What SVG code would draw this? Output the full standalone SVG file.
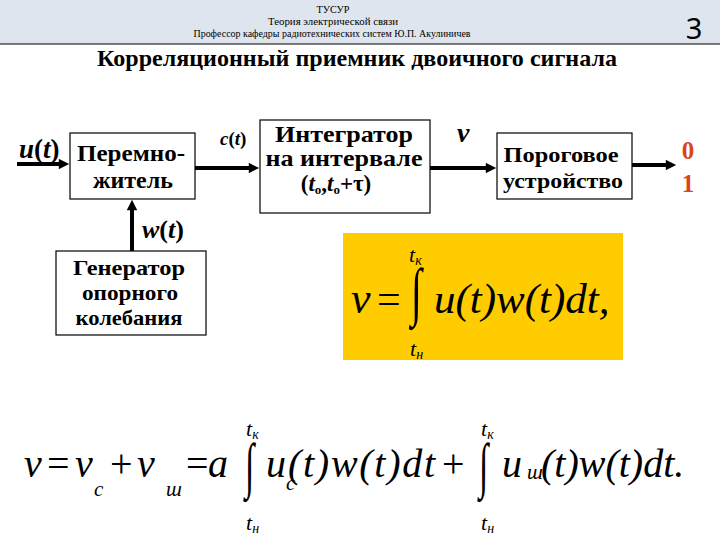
<svg xmlns="http://www.w3.org/2000/svg" width="720" height="540" viewBox="0 0 720 540">
<defs>
<marker id="ah" viewBox="0 0 10 10" refX="5" refY="5" markerWidth="3" markerHeight="2.6" orient="auto">
<path d="M0,0 L10,5 L0,10 z" fill="#000"/>
</marker>
</defs>
<rect x="0" y="0" width="720" height="540" fill="#fff"/>
<g id="header">
<rect x="0" y="0" width="720" height="44" fill="#dfe5ee"/>
<line x1="0" y1="44" x2="720" y2="44" stroke="#000" stroke-width="1.2"/>
<text x="333" y="13" text-anchor="middle" style="font-family:'Liberation Serif',serif;font-size:10px" textLength="33" lengthAdjust="spacingAndGlyphs">ТУСУР</text>
<text x="333" y="25" text-anchor="middle" style="font-family:'Liberation Serif',serif;font-size:10px" textLength="130" lengthAdjust="spacingAndGlyphs">Теория электрической связи</text>
<text x="332" y="37" text-anchor="middle" style="font-family:'Liberation Serif',serif;font-size:10px" textLength="277" lengthAdjust="spacingAndGlyphs">Профессор кафедры радиотехнических систем Ю.П. Акулиничев</text>
<text x="694" y="39" text-anchor="middle" style="font-family:'Noto Sans',sans-serif;font-size:29px">3</text>
</g>
<text id="title" x="357" y="66" text-anchor="middle" style="font-family:'Liberation Serif',serif;font-weight:bold;font-size:23px" textLength="520" lengthAdjust="spacingAndGlyphs">Корреляционный приемник двоичного сигнала</text>

<g id="connectors" stroke="#000" stroke-width="4" fill="none">
<line x1="17" y1="164" x2="64" y2="164" marker-end="url(#ah)"/>
<line x1="195" y1="168" x2="254" y2="168" marker-end="url(#ah)"/>
<line x1="430" y1="168" x2="491" y2="168" marker-end="url(#ah)"/>
<line x1="632" y1="165" x2="671" y2="165" marker-end="url(#ah)"/>
<line x1="132" y1="251" x2="132" y2="205" marker-end="url(#ah)"/>
</g>
<g id="signal-labels" fill="#000">
<text x="19" y="158" style="font-family:'Liberation Serif',serif;font-weight:bold;font-size:27px"><tspan style="font-style:italic">u</tspan>(<tspan style="font-style:italic">t</tspan>)</text>
<text x="220" y="145" style="font-family:'Liberation Serif',serif;font-weight:bold;font-size:19px"><tspan style="font-style:italic">c</tspan>(<tspan style="font-style:italic">t</tspan>)</text>
<text x="457" y="142" style="font-family:'Liberation Serif',serif;font-weight:bold;font-style:italic;font-size:28px">v</text>
<text x="142" y="238" style="font-family:'Liberation Serif',serif;font-weight:bold;font-size:26px"><tspan style="font-style:italic">w</tspan>(<tspan style="font-style:italic">t</tspan>)</text>
</g>

<g id="multiplier">
<rect x="70" y="133" width="125" height="66" fill="#fff" stroke="#000" stroke-width="1.2"/>
<text x="131" y="161" text-anchor="middle" style="font-family:'Liberation Serif',serif;font-weight:bold;font-size:23px" textLength="108" lengthAdjust="spacingAndGlyphs">Перемно-</text>
<text x="133" y="188" text-anchor="middle" style="font-family:'Liberation Serif',serif;font-weight:bold;font-size:23px" textLength="80" lengthAdjust="spacingAndGlyphs">житель</text>
</g>
<g id="integrator">
<rect x="260" y="120" width="170" height="93" fill="#fff" stroke="#000" stroke-width="1.2"/>
<text x="344" y="142" text-anchor="middle" style="font-family:'Liberation Serif',serif;font-weight:bold;font-size:23px" textLength="138" lengthAdjust="spacingAndGlyphs">Интегратор</text>
<text x="344" y="166" text-anchor="middle" style="font-family:'Liberation Serif',serif;font-weight:bold;font-size:23px" textLength="157" lengthAdjust="spacingAndGlyphs">на интервале</text>
<text x="336" y="191" text-anchor="middle" style="font-family:'Liberation Serif',serif;font-weight:bold;font-size:23px">(<tspan style="font-style:italic">t</tspan><tspan style="font-size:13px" dy="3">o</tspan><tspan dy="-3">,</tspan><tspan style="font-style:italic">t</tspan><tspan style="font-size:13px" dy="3">o</tspan><tspan dy="-3">+τ)</tspan></text>
</g>
<g id="threshold">
<rect x="497" y="133" width="135" height="66" fill="#fff" stroke="#000" stroke-width="1.2"/>
<text x="561" y="162" text-anchor="middle" style="font-family:'Liberation Serif',serif;font-weight:bold;font-size:22px" textLength="115" lengthAdjust="spacingAndGlyphs">Пороговое</text>
<text x="563" y="188" text-anchor="middle" style="font-family:'Liberation Serif',serif;font-weight:bold;font-size:22px" textLength="120" lengthAdjust="spacingAndGlyphs">устройство</text>
</g>
<g id="output" fill="#d8461c">
<text x="688" y="159" text-anchor="middle" style="font-family:'Liberation Serif',serif;font-weight:bold;font-size:25px">0</text>
<text x="688" y="192" text-anchor="middle" style="font-family:'Liberation Serif',serif;font-weight:bold;font-size:25px">1</text>
</g>
<g id="generator">
<rect x="56" y="251" width="150" height="84" fill="#fff" stroke="#000" stroke-width="1.2"/>
<text x="129" y="275" text-anchor="middle" style="font-family:'Liberation Serif',serif;font-weight:bold;font-size:22px" textLength="112" lengthAdjust="spacingAndGlyphs">Генератор</text>
<text x="130" y="300" text-anchor="middle" style="font-family:'Liberation Serif',serif;font-weight:bold;font-size:22px" textLength="96" lengthAdjust="spacingAndGlyphs">опорного</text>
<text x="129" y="325" text-anchor="middle" style="font-family:'Liberation Serif',serif;font-weight:bold;font-size:22px" textLength="107" lengthAdjust="spacingAndGlyphs">колебания</text>
</g>

<g id="formula1">
<rect x="343" y="233" width="280" height="127" fill="#ffcc00"/>
<text x="351" y="313" style="font-family:'Liberation Serif',serif;font-style:italic;font-size:44px">v</text>
<text x="377" y="313" style="font-family:'Liberation Serif',serif;font-size:42px">=</text>
<text x="0" y="0" transform="translate(411,313) scale(0.62,1)" style="font-family:'Liberation Serif',serif;font-size:64px">∫</text>
<text x="409" y="262" style="font-family:'Liberation Serif',serif;font-style:italic;font-size:22px">t<tspan dy="3" style="font-size:14px">к</tspan></text>
<text x="410" y="356" style="font-family:'Liberation Serif',serif;font-style:italic;font-size:22px">t<tspan dy="3" style="font-size:14px">н</tspan></text>
<text x="434" y="313" style="font-family:'Liberation Serif',serif;font-style:italic;font-size:43px">u(t)w(t)dt,</text>
</g>

<g id="formula2">
<text x="24" y="477" style="font-family:'Liberation Serif',serif;font-style:italic;font-size:40px">v</text>
<text x="47" y="477" style="font-family:'Liberation Serif',serif;font-size:40px">=</text>
<text x="75" y="477" style="font-family:'Liberation Serif',serif;font-style:italic;font-size:40px">v</text>
<text x="94" y="496" style="font-family:'Liberation Serif',serif;font-style:italic;font-size:21px">c</text>
<text x="110" y="477" style="font-family:'Liberation Serif',serif;font-size:40px">+</text>
<text x="137" y="477" style="font-family:'Liberation Serif',serif;font-style:italic;font-size:40px">v</text>
<text x="166" y="496" style="font-family:'Liberation Serif',serif;font-style:italic;font-size:21px">ш</text>
<text x="186" y="477" style="font-family:'Liberation Serif',serif;font-size:40px">=</text>
<text x="208" y="477" style="font-family:'Liberation Serif',serif;font-style:italic;font-size:40px">a</text>
<text x="0" y="0" transform="translate(245,486) scale(0.55,1)" style="font-family:'Liberation Serif',serif;font-size:61px">∫</text>
<text x="246" y="436" style="font-family:'Liberation Serif',serif;font-style:italic;font-size:22px">t<tspan dy="3" style="font-size:14px">к</tspan></text>
<text x="246" y="530" style="font-family:'Liberation Serif',serif;font-style:italic;font-size:22px">t<tspan dy="3" style="font-size:14px">н</tspan></text>
<text x="266" y="477" style="font-family:'Liberation Serif',serif;font-style:italic;font-size:40px">u</text>
<text x="286" y="490" style="font-family:'Liberation Serif',serif;font-style:italic;font-size:21px">c</text>
<text x="288" y="477" textLength="147" lengthAdjust="spacing" style="font-family:'Liberation Serif',serif;font-style:italic;font-size:40px">(t)w(t)dt</text>
<text x="442" y="477" style="font-family:'Liberation Serif',serif;font-size:40px">+</text>
<text x="0" y="0" transform="translate(479,486) scale(0.55,1)" style="font-family:'Liberation Serif',serif;font-size:61px">∫</text>
<text x="481" y="436" style="font-family:'Liberation Serif',serif;font-style:italic;font-size:22px">t<tspan dy="3" style="font-size:14px">к</tspan></text>
<text x="481" y="530" style="font-family:'Liberation Serif',serif;font-style:italic;font-size:22px">t<tspan dy="3" style="font-size:14px">н</tspan></text>
<text x="502" y="477" style="font-family:'Liberation Serif',serif;font-style:italic;font-size:40px">u</text>
<text x="527" y="479" style="font-family:'Liberation Serif',serif;font-style:italic;font-size:21px">ш</text>
<text x="541" y="477" style="font-family:'Liberation Serif',serif;font-style:italic;font-size:40px">(t)w(t)dt.</text>
</g>
</svg>
